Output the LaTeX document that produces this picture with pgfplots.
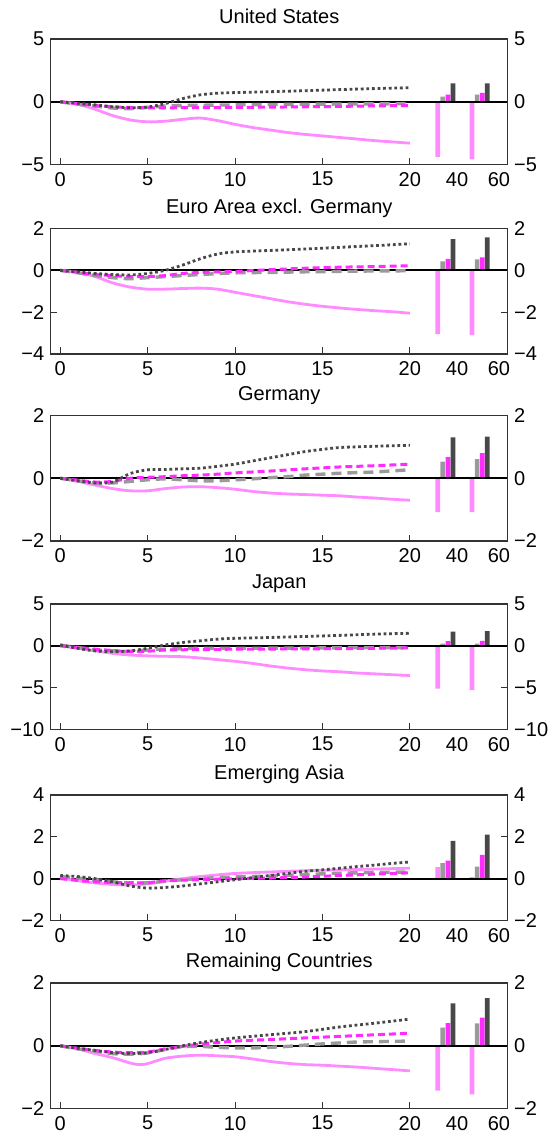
\documentclass[border=0pt]{standalone}
\usepackage{fontspec}
\setmainfont{Liberation Sans}
\usepackage{pgfplots}
\pgfplotsset{compat=1.18}
\definecolor{cpink}{HTML}{FF8CFF}
\definecolor{cmag}{HTML}{FF2BFF}
\definecolor{cgray}{HTML}{9A9A9A}
\definecolor{cdark}{HTML}{484848}
\newcommand{\lfont}{\fontsize{20}{24}\selectfont}
\pgfplotsset{
  base/.style={scale only axis, width=456.9pt, height=125.5pt, anchor=north west,
    xmin=-0.54, xmax=25.6, clip=true,
    axis line style={line width=1.1pt, color=black!80},
    tick style={line width=1pt, color=black!80},
    major tick length=6.5pt, tick align=inside,
    tick label style={font=\lfont},
  },
  panel/.style={base,
    xtick={0,5,10,15,20}, xticklabels={0,5,10,15,20}, xtick pos=bottom,
    extra x ticks={22.7,25.1}, extra x tick labels={40,60},
    extra x tick style={major tick length=0pt},
    xticklabel style={yshift=-4pt},
    yticklabel style={xshift=-3pt},
    ytick pos=both, yticklabel pos=left,
    every axis title shift=0pt,
    title style={font=\lfont, at={(0.5,1)}, anchor=base, yshift=15.4pt},
  },
  rpanel/.style={base, hide x axis, axis y line*=right,
    ytick style={draw=none}, yticklabel style={xshift=3pt}},
  pinkl/.style={cpink, line width=2.8pt, smooth, tension=0.5},
  grayl/.style={cgray, line width=3.4pt, dash pattern=on 10pt off 6pt, smooth, tension=0.5},
  magl/.style={cmag, line width=3pt, dash pattern=on 7pt off 4pt, smooth, tension=0.5},
  darkl/.style={cdark, line width=2.8pt, dash pattern=on 2.8pt off 2.8pt, smooth, tension=0.5},
  barst/.style={ybar, bar shift=0pt, bar width=0.27, draw=none},
}
% bars: pink1 pink2 gray1 gray2 mag1 mag2 dark1 dark2
\newcommand{\bars}[8]{%
  \addplot[barst, fill=cpink] coordinates {(21.6,#1) (23.56,#2)};
  \addplot[barst, fill=cgray] coordinates {(21.89,#3) (23.85,#4)};
  \addplot[barst, fill=cmag] coordinates {(22.18,#5) (24.14,#6)};
  \addplot[barst, fill=cdark] coordinates {(22.47,#7) (24.43,#8)};
  \addplot[black, line width=1.8pt] coordinates {(-0.54,0) (25.6,0)};
}
\newcommand{\rightaxis}[5]{%
  \begin{axis}[rpanel, at={(50.8pt,-#1pt)}, ymin=#2, ymax=#3, ytick={#4}, yticklabels={#5}]
  \addplot[draw=none] coordinates {(0,0)};
  \end{axis}}
\begin{document}
\begin{tikzpicture}
\path[use as bounding box] (0pt,0pt) rectangle (549pt,-1132pt);

% United States
\begin{axis}[panel, at={(50.8pt,-39pt)}, title={United States}, ymin=-5, ymax=5, ytick={-5,0,5}, yticklabels={−5,0,5}]
\bars{-4.4}{-4.6}{0.4}{0.56}{0.56}{0.7}{1.47}{1.47}
\addplot[pinkl] coordinates {(0,0)(1,-0.2)(2,-0.6)(3,-1.1)(4,-1.45)(5,-1.6)(6,-1.55)(7,-1.4)(8,-1.3)(9,-1.5)(10,-1.8)(11,-2.05)(12,-2.25)(13,-2.45)(14,-2.6)(15,-2.72)(16,-2.85)(17,-2.97)(18,-3.1)(19,-3.2)(20,-3.3)};
\addplot[grayl] coordinates {(0,0)(1,-0.2)(2,-0.35)(3,-0.5)(4,-0.55)(5,-0.45)(6,-0.35)(7,-0.3)(8,-0.28)(10,-0.25)(12,-0.22)(14,-0.2)(16,-0.18)(18,-0.17)(20,-0.15)};
\addplot[magl] coordinates {(0,0)(1,-0.15)(2,-0.3)(3,-0.4)(4,-0.45)(5,-0.48)(6,-0.48)(8,-0.47)(10,-0.45)(12,-0.43)(14,-0.4)(16,-0.37)(18,-0.33)(20,-0.3)};
\addplot[darkl] coordinates {(0,0)(1,-0.12)(2,-0.25)(3,-0.4)(4,-0.48)(5,-0.42)(6,-0.15)(7,0.25)(8,0.55)(9,0.68)(10,0.73)(12,0.8)(14,0.88)(16,0.97)(18,1.05)(20,1.12)};
\end{axis}
\rightaxis{39}{-5}{5}{-5,0,5}{−5,0,5}

% Euro Area excl. Germany
\begin{axis}[panel, at={(50.8pt,-228.5pt)}, title={Euro Area excl. Germany}, ymin=-4, ymax=2, ytick={-4,-2,0,2}, yticklabels={−4,−2,0,2}]
\bars{-3.05}{-3.1}{0.43}{0.52}{0.55}{0.62}{1.49}{1.57}
\addplot[pinkl] coordinates {(0,0)(1,-0.1)(2,-0.3)(3,-0.6)(4,-0.8)(5,-0.9)(6,-0.9)(7,-0.87)(8,-0.85)(9,-0.9)(10,-1.05)(11,-1.2)(12,-1.35)(13,-1.5)(14,-1.62)(15,-1.72)(16,-1.8)(17,-1.87)(18,-1.93)(19,-1.98)(20,-2.05)};
\addplot[grayl] coordinates {(0,0)(1,-0.12)(2,-0.25)(3,-0.35)(4,-0.4)(5,-0.35)(6,-0.3)(8,-0.2)(10,-0.12)(12,-0.1)(14,-0.07)(16,-0.05)(18,-0.03)(20,-0.02)};
\addplot[magl] coordinates {(0,0)(1,-0.1)(2,-0.2)(3,-0.25)(4,-0.3)(5,-0.3)(6,-0.25)(7,-0.15)(8,-0.1)(10,-0.05)(12,0.03)(14,0.1)(16,0.15)(18,0.18)(20,0.22)};
\addplot[darkl] coordinates {(0,0)(1,-0.07)(2,-0.15)(3,-0.2)(4,-0.22)(5,-0.15)(6,0.0)(7,0.25)(8,0.55)(9,0.78)(10,0.88)(12,0.95)(14,1.02)(16,1.1)(18,1.18)(20,1.27)};
\end{axis}
\rightaxis{228.5}{-4}{2}{-4,-2,0,2}{−4,−2,0,2}

% Germany
\begin{axis}[panel, at={(50.8pt,-415.5pt)}, title={Germany}, ymin=-2, ymax=2, ytick={-2,0,2}, yticklabels={−2,0,2}]
\bars{-1.08}{-1.08}{0.53}{0.61}{0.67}{0.8}{1.3}{1.33}
\addplot[pinkl] coordinates {(0,0)(1,-0.1)(2,-0.22)(3,-0.33)(4,-0.4)(5,-0.4)(6,-0.33)(7,-0.28)(8,-0.27)(9,-0.3)(10,-0.35)(11,-0.42)(12,-0.47)(13,-0.5)(14,-0.52)(15,-0.54)(16,-0.56)(17,-0.6)(18,-0.63)(19,-0.67)(20,-0.7)};
\addplot[grayl] coordinates {(0,0)(1,-0.08)(2,-0.15)(3,-0.15)(4,-0.1)(5,-0.05)(6,-0.02)(7,-0.05)(8,-0.08)(9,-0.08)(10,-0.05)(11,-0.02)(12,0.02)(13,0.05)(14,0.1)(15,0.13)(16,0.16)(17,0.18)(18,0.2)(20,0.27)};
\addplot[magl] coordinates {(0,0)(1,-0.06)(2,-0.12)(3,-0.1)(4,0)(5,0.03)(6,0.05)(7,0.08)(8,0.1)(9,0.13)(10,0.17)(12,0.23)(14,0.3)(15,0.33)(16,0.36)(18,0.4)(20,0.45)};
\addplot[darkl] coordinates {(0,0)(1,-0.08)(2,-0.15)(3,-0.12)(4,0.15)(5,0.27)(6,0.28)(7,0.3)(8,0.32)(9,0.38)(10,0.45)(11,0.55)(12,0.65)(13,0.75)(14,0.85)(15,0.92)(16,0.98)(18,1.02)(20,1.05)};
\end{axis}
\rightaxis{415.5}{-2}{2}{-2,0,2}{−2,0,2}

% Japan
\begin{axis}[panel, at={(50.8pt,-604pt)}, title={Japan}, ymin=-10, ymax=5, ytick={-10,-5,0,5}, yticklabels={−10,−5,0,5}]
\bars{-5.1}{-5.3}{0.25}{0.25}{0.55}{0.6}{1.7}{1.75}
\addplot[pinkl] coordinates {(0,0)(1,-0.3)(2,-0.6)(3,-0.9)(4,-1.1)(5,-1.2)(6,-1.25)(7,-1.3)(8,-1.45)(9,-1.65)(10,-1.85)(11,-2.1)(12,-2.4)(13,-2.65)(14,-2.85)(15,-3.0)(16,-3.1)(17,-3.25)(18,-3.35)(19,-3.45)(20,-3.55)};
\addplot[grayl] coordinates {(0,0.1)(1,-0.2)(2,-0.5)(3,-0.6)(4,-0.65)(5,-0.5)(6,-0.4)(8,-0.3)(10,-0.3)(15,-0.25)(20,-0.2)};
\addplot[magl] coordinates {(0,0)(1,-0.2)(2,-0.4)(3,-0.55)(4,-0.7)(5,-0.65)(6,-0.5)(8,-0.45)(10,-0.4)(15,-0.35)(20,-0.25)};
\addplot[darkl] coordinates {(0,0.1)(1,-0.3)(2,-0.6)(3,-0.7)(4,-0.6)(5,-0.3)(6,0.1)(7,0.4)(8,0.6)(9,0.8)(10,0.9)(12,1.0)(14,1.12)(16,1.25)(18,1.4)(20,1.5)};
\end{axis}
\rightaxis{604}{-10}{5}{-10,-5,0,5}{−10,−5,0,5}

% Emerging Asia
\begin{axis}[panel, at={(50.8pt,-795pt)}, title={Emerging Asia}, ymin=-2, ymax=4, ytick={-2,0,2,4}, yticklabels={−2,0,2,4}]
\bars{0.55}{0.07}{0.74}{0.57}{0.86}{1.14}{1.81}{2.1}
\addplot[pinkl] coordinates {(0,0.05)(1,-0.1)(2,-0.2)(3,-0.28)(4,-0.3)(5,-0.25)(6,-0.12)(7,0.0)(8,0.1)(9,0.18)(10,0.25)(12,0.32)(14,0.38)(16,0.42)(18,0.46)(20,0.5)};
\addplot[grayl] coordinates {(0,0.1)(1,0.03)(2,-0.05)(3,-0.15)(4,-0.2)(5,-0.2)(6,-0.12)(7,-0.05)(8,0.0)(9,0.05)(10,0.08)(12,0.13)(14,0.2)(16,0.26)(18,0.3)(20,0.32)};
\addplot[magl] coordinates {(0,0)(1,-0.08)(2,-0.15)(3,-0.18)(4,-0.2)(5,-0.2)(6,-0.1)(8,-0.05)(10,0)(12,0.03)(14,0.08)(16,0.15)(18,0.22)(20,0.28)};
\addplot[darkl] coordinates {(0,0.15)(1,0.1)(2,0.0)(3,-0.15)(4,-0.35)(5,-0.45)(6,-0.42)(7,-0.35)(8,-0.25)(9,-0.15)(10,-0.05)(11,0.05)(12,0.15)(13,0.25)(14,0.35)(15,0.42)(16,0.5)(17,0.58)(18,0.65)(19,0.73)(20,0.8)};
\end{axis}
\rightaxis{795}{-2}{4}{-2,0,2,4}{−2,0,2,4}

% Remaining Countries
\begin{axis}[panel, at={(50.8pt,-983pt)}, title={Remaining Countries}, ymin=-2, ymax=2, ytick={-2,0,2}, yticklabels={−2,0,2}]
\bars{-1.43}{-1.55}{0.58}{0.71}{0.72}{0.9}{1.35}{1.52}
\addplot[pinkl] coordinates {(0,0)(1,-0.1)(2,-0.25)(3,-0.38)(4,-0.55)(4.5,-0.6)(5,-0.57)(6,-0.4)(7,-0.33)(8,-0.3)(9,-0.32)(10,-0.35)(11,-0.42)(12,-0.5)(13,-0.56)(14,-0.6)(15,-0.62)(16,-0.65)(17,-0.68)(18,-0.72)(19,-0.76)(20,-0.8)};
\addplot[grayl] coordinates {(0,0)(1,-0.1)(2,-0.17)(3,-0.25)(4,-0.27)(5,-0.23)(6,-0.12)(7,-0.03)(8,-0.02)(9,-0.05)(10,-0.07)(11,-0.07)(12,-0.05)(13,-0.02)(14,0.02)(15,0.06)(16,0.09)(17,0.12)(18,0.13)(20,0.15)};
\addplot[magl] coordinates {(0,0)(1,-0.08)(2,-0.15)(3,-0.2)(4,-0.22)(5,-0.2)(6,-0.1)(7,-0.02)(8,0.05)(9,0.1)(10,0.15)(12,0.2)(14,0.25)(16,0.3)(18,0.35)(20,0.4)};
\addplot[darkl] coordinates {(0,0)(1,-0.08)(2,-0.15)(3,-0.22)(4,-0.25)(5,-0.22)(6,-0.12)(7,0.0)(8,0.1)(9,0.18)(10,0.25)(12,0.35)(14,0.45)(16,0.6)(18,0.72)(20,0.85)};
\end{axis}
\rightaxis{983}{-2}{2}{-2,0,2}{−2,0,2}
\end{tikzpicture}
\end{document}
